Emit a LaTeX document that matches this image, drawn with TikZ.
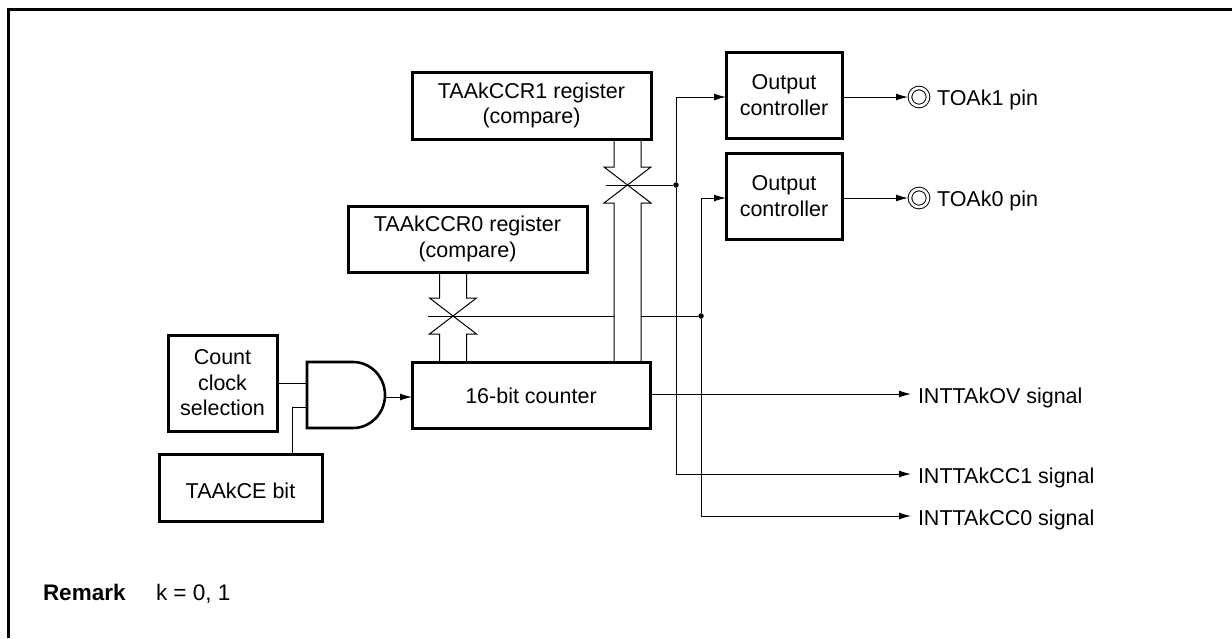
\documentclass[tikz,border=0pt]{standalone}
\usepackage{fontspec}
\setmainfont{Liberation Sans}
\usetikzlibrary{
    arrows.meta,
    positioning,
    calc
}
\tikzset{
  box/.style     = {draw, line width=3pt, inner sep=0pt, outer sep=0pt, align=center,
                    font=\fontsize{21.5}{25.5}\selectfont},
  lift/.style    = {execute at begin node={\rule{0pt}{\dimexpr15.7pt+#1*2\relax}}},
  wire/.style    = {line width=1pt},
  sig/.style     = {-{Latex[length=12pt,width=7pt]}, line width=1pt},
  signame/.style = {anchor=base west, inner sep=0pt, outer sep=0pt, font=\fontsize{21.5}{25.5}\selectfont},
  pinmark/.style = {circle, draw, line width=1pt, double, double distance=2.6pt,
                    minimum size=18pt, inner sep=0pt, outer sep=0pt},
  junction/.style= {circle, fill, inner sep=0pt, minimum size=5.5pt}
}
% crossed bus: centre, upper node, lower node
\newcommand{\busx}[3]{
  \draw[wire] ($(#1 |- #2.south)+(-13.5,0)$) |- ($(#1)+(-23.5,18)$) -- ($(#1)+(23.5,-18)$) -| ($(#1 |- #3.north)+(13.5,0)$);
  \draw[wire] ($(#1 |- #2.south)+(13.5,0)$) |- ($(#1)+(23.5,18)$) -- ($(#1)+(-23.5,-18)$) -| ($(#1 |- #3.north)+(-13.5,0)$);
}

\begin{document}
\begin{tikzpicture}[x=1pt,y=1pt]
\useasboundingbox (0,-638) rectangle (1232,0);
\draw[line width=3pt] (8.5,-638) -- (8.5,-9.5) -- (1232,-9.5);

\node[box,lift=1pt,minimum width=238pt,minimum height=66pt] (counter) at (531,-395) {16-bit counter};
\node[box,draw=none,minimum width=78pt,minimum height=66pt,left=27pt of counter] (gate) {};
\draw[line width=2.6pt] (gate.north west) -- ++(46,0) arc[start angle=90,end angle=-90,x radius=32pt,y radius=33pt] -- (gate.south west) -- cycle;
\node[box,lift=1pt,minimum width=109pt,minimum height=96pt,left=30pt of gate,yshift=12pt] (clk) {Count\\clock\\selection};
\node[box,lift=3pt,minimum width=163pt,minimum height=67pt,below=23pt of clk,xshift=18pt] (ce) {TAAkCE bit};
\node[box,lift=4pt,minimum width=239pt,minimum height=66pt,above=90pt of counter,xshift=-63.5pt] (ccr0) {TAAkCCR0 register\\(compare)};
\node[box,lift=4.5pt,minimum width=239pt,minimum height=67pt,above=67pt of ccr0,xshift=64pt] (ccr1) {TAAkCCR1 register\\(compare)};
\node[box,lift=2pt,minimum width=116pt,minimum height=86pt,right=75pt of ccr1,yshift=10.5pt] (oc1) {Output\\controller};
\node[box,lift=2pt,minimum width=116pt,minimum height=86pt,below=15pt of oc1] (oc0) {Output\\controller};

\node[pinmark] (pin1) at (919,-97) {};
\node[pinmark] (pin0) at (919,-198) {};
\node[signame] (pin1txt) at (937,-105) {TOAk1 pin};
\node[signame] (pin0txt) at (937,-206) {TOAk0 pin};
\node[signame] (sigov) at (918,-403) {INTTAkOV signal};
\node[signame] (sigcc1) at (918,-483) {INTTAkCC1 signal};
\node[signame] (sigcc0) at (918,-525) {INTTAkCC0 signal};
\node[signame,font=\fontsize{22.5}{25.5}\selectfont] (remark) at (43,-600) {\textbf{Remark}};
\node[signame,font=\fontsize{22.5}{25.5}\selectfont] (kval) at (156,-600) {k = 0, 1};

\coordinate (sw1) at (627.5,-185);
\coordinate (sw0) at (453,-316);
\coordinate (ovend) at ($(sigov.base west)+(-7,9)$);
\coordinate (cc1end) at ($(sigcc1.base west)+(-7,9)$);
\coordinate (cc0end) at ($(sigcc0.base west)+(-7,9)$);
\busx{sw1}{ccr1}{counter}
\busx{sw0}{ccr0}{counter}
\node[junction] (j1) at (676,-185) {};
\node[junction] (j0) at (701,-316) {};

\draw[wire] ($(sw1)+(-22,0)$) -- (j1);
\draw[wire] ($(sw0)+(-25,0)$) -- ($(sw1 |- sw0)+(-13.5,0)$);
\draw[wire] ($(sw1 |- sw0)+(13.5,0)$) -- (j0);
\draw[sig] (j1) |- ($(oc1.west)+(0,-2)$);
\draw[sig] (j0) |- ($(oc0.west)+(0,-2)$);
\draw[sig] (j1) |- (cc1end);
\draw[sig] (j0) |- (cc0end);
\draw[sig] (ovend -| counter.east) -- (ovend);

\draw[wire] (clk.east) -- (clk.east -| gate.west);
\draw[wire] ($(gate.west)+(0,-12)$) -| ($(ce.north west)+(133,0)$);
\draw[sig] ($(gate.east)+(0,-2)$) -- ($(counter.west)+(0,-2)$);
\draw[sig] ($(oc1.east)+(0,-2)$) -- ($(pin1.west)+(-2,0)$);
\draw[sig] ($(oc0.east)+(0,-2)$) -- ($(pin0.west)+(-2,0)$);
\end{tikzpicture}
\end{document}
